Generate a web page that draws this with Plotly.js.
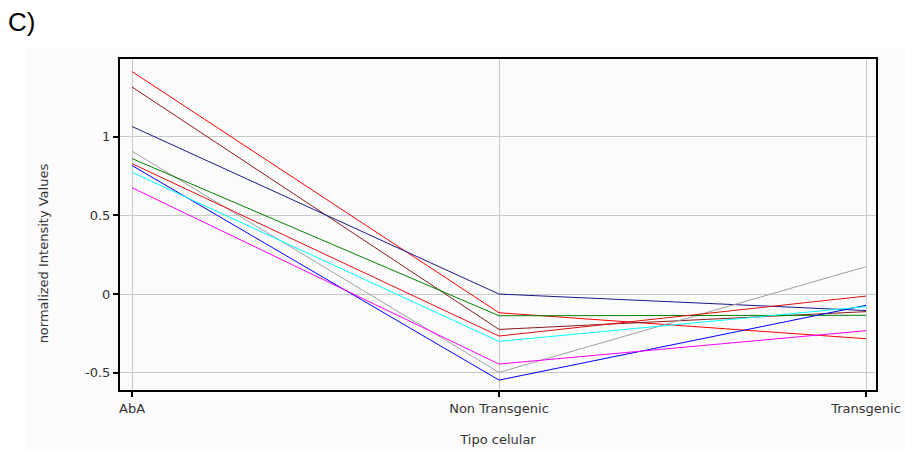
<!DOCTYPE html>
<html>
<head>
<meta charset="utf-8">
<script src="https://cdn.plot.ly/plotly-3.0.1.min.js"></script>
<style>html,body{margin:0;padding:0;background:#fff;}#chart{width:905px;height:450px;}</style>
</head>
<body>
<div id="chart"></div>
<script>
var categories = ["AbA", "Non Transgenic", "Transgenic"];
var seriesNames = ["s1", "s2", "s3", "s4", "s5", "s6", "s7", "s8", "s9"];
var seriesColors = ["#ff0000", "#8b1a1a", "#1a1a8c", "#a0a0a0", "#008000", "#dd1010", "#0000ff", "#00ffff", "#ff00ff"];
var s1 = [1.414, -0.119, -0.284];
var s2 = [1.316, -0.225, -0.112];
var s3 = [1.065, 0.000, -0.105];
var s4 = [0.908, -0.498, 0.174];
var s5 = [0.861, -0.138, -0.135];
var s6 = [0.829, -0.267, -0.013];
var s7 = [0.817, -0.547, -0.072];
var s8 = [0.774, -0.301, -0.080];
var s9 = [0.676, -0.445, -0.233];
var seriesValues = [s1, s2, s3, s4, s5, s6, s7, s8, s9];
var yTickVals = [-0.5, 0, 0.5, 1];
var yTickText = ["-0.5", "0", "0.5", "1"];

var traces = seriesValues.map(function (vals, i) {
  return {
    type: "scatter", mode: "lines", x: categories, y: vals, name: seriesNames[i],
    line: {color: seriesColors[i], width: 1}, hoverinfo: "none"
  };
});

var font = {family: "DejaVu Sans, sans-serif", size: 13, color: "#333"};
var layout = {
  width: 905, height: 450,
  margin: {l: 120, r: 29, t: 59, b: 60, pad: 0},
  paper_bgcolor: "#ffffff", plot_bgcolor: "#ffffff",
  showlegend: false,
  font: font,
  xaxis: {
    type: "category", range: [-0.0327, 2.0272],
    showgrid: true, gridcolor: "#c8c8c8", gridwidth: 1,
    showline: true, linecolor: "#000", linewidth: 2, mirror: true,
    ticks: "outside", ticklen: 5, tickwidth: 2, tickcolor: "#000",
    zeroline: false, tickfont: font,
    title: {text: "Tipo celular", font: font, standoff: 20}
  },
  yaxis: {
    range: [-0.610, 1.494],
    tickvals: yTickVals, ticktext: yTickText,
    showgrid: true, gridcolor: "#c8c8c8", gridwidth: 1,
    showline: true, linecolor: "#000", linewidth: 2, mirror: true,
    ticks: "outside", ticklen: 5, tickwidth: 2, tickcolor: "#000",
    zeroline: false, tickfont: font
  },
  shapes: [{
    type: "rect", xref: "paper", yref: "paper", layer: "below",
    x0: -0.1257, x1: 1.04, y0: -0.19, y1: 1.033,
    fillcolor: "#fbfbfb", line: {width: 0}
  }],
  annotations: [{
    text: "C)", xref: "paper", yref: "paper", x: -0.151, y: 1.112,
    xanchor: "left", yanchor: "middle", showarrow: false,
    font: {family: "Liberation Sans, Arial, sans-serif", size: 26, color: "#000"}
  }, {
    text: "normalized Intensity Values", xref: "paper", yref: "paper",
    x: -0.1, y: 0.414, xanchor: "center", yanchor: "middle",
    textangle: -90, showarrow: false, font: font
  }]
};

Plotly.newPlot("chart", traces, layout, {displayModeBar: false, staticPlot: true});
</script>
</body>
</html>
